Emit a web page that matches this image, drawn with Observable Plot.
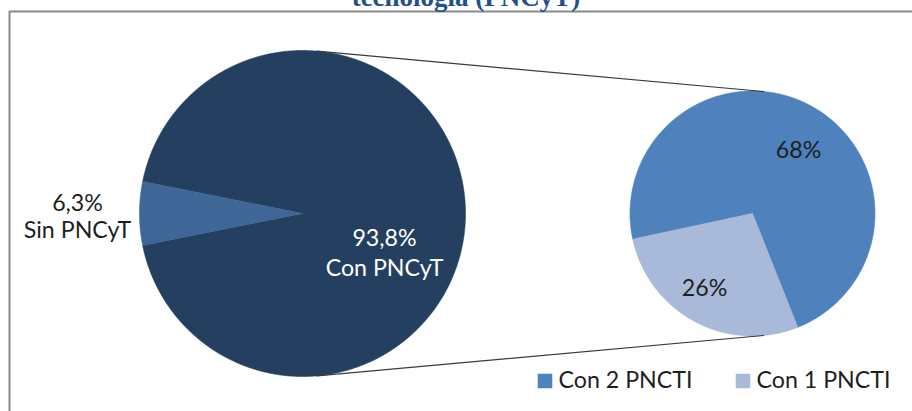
<!DOCTYPE html>
<html><head><meta charset="utf-8">
<script src="https://cdn.jsdelivr.net/npm/d3@7"></script>
<script src="https://cdn.jsdelivr.net/npm/@observablehq/plot@0.6"></script>
<style>
body{margin:0;background:#fff;overflow:hidden;}
#wrap{position:relative;width:912px;height:411px;overflow:hidden;background:#fff;}
#chart{position:absolute;left:0;top:0;}
#title{position:absolute;left:0;width:932px;top:-16px;text-align:center;font:bold 27px "Liberation Serif",serif;line-height:27px;color:#24508a;white-space:nowrap;z-index:2;}
</style></head><body>
<div id="wrap"><div id="chart"></div><div id="title">tecnología (PNCyT)</div></div>
<script>
// ---- data ----
const mainCategories = ["Con PNCyT", "Sin PNCyT"];
const mainValues = [93.8, 6.3];
const mainLabels = ["93,8%", "6,3%"];
const subCategories = ["Con 2 PNCTI", "Con 1 PNCTI"];
const subValues = [68, 26];
const subLabels = ["68%", "26%"];
const legendCategories = ["Con 2 PNCTI", "Con 1 PNCTI"];

// ---- styles / layout ----
const colors = {"Con PNCyT":"#243f60","Sin PNCyT":"#3e6797","Con 2 PNCTI":"#4f81bd","Con 1 PNCTI":"#a9b9d9"};
const W = 912, H = 411;
const mainPie = {cx:302, cy:213, r:163};
const subPie = {cx:752, cy:213, r:122.5, startDeg:257.9};
const frame = {left:9, top:11};
const font = "Lato, 'Open Sans', sans-serif";
const fs = 23.2;
const labelOffset = {"Con PNCyT":[82,38], "Sin PNCyT":[-225,2], "Con 2 PNCTI":[46,-63], "Con 1 PNCTI":[-48,75]};
const legend = {y:380.5, x:[544.5, 742.5], textGap:13.5};

const rad = Math.PI/180;
function pieLayout(cats, vals, p, startDeg){
  const s = startDeg*rad;
  const arcs = d3.pie().sort(null).startAngle(s).endAngle(s+2*Math.PI)(vals);
  const pts = [];
  arcs.forEach((a,i)=>{
    const n = Math.max(2, Math.ceil((a.endAngle-a.startAngle)/(0.4*rad)));
    pts.push({key:cats[i], x:p.cx, y:p.cy});
    for(let k=0;k<=n;k++){
      const t = a.startAngle+(a.endAngle-a.startAngle)*k/n;
      pts.push({key:cats[i], x:p.cx+p.r*Math.sin(t), y:p.cy-p.r*Math.cos(t)});
    }
    pts.push({key:cats[i], x:p.cx, y:p.cy});
  });
  return {arcs, pts};
}
// main pie: small slice centred on the left (270deg)
const mainTotal = d3.sum(mainValues);
const smallSpan = mainValues[1]/mainTotal*360;
const mainStart = 270 + smallSpan/2;
const M = pieLayout(mainCategories, mainValues, mainPie, mainStart);
const S = pieLayout(subCategories, subValues, subPie, subPie.startDeg);

// external tangent connectors
function tangents(a, b){
  const dx=b.cx-a.cx, dy=b.cy-a.cy, D=Math.hypot(dx,dy);
  const phi=Math.atan2(dy,dx), alpha=Math.acos((a.r-b.r)/D);
  return [-1,1].map((sg,i)=>{
    const ang = phi + sg*alpha;
    const nx=Math.cos(ang), ny=Math.sin(ang);
    return [{id:i,x:a.cx+a.r*nx,y:a.cy+a.r*ny},{id:i,x:b.cx+b.r*nx,y:b.cy+b.r*ny}];
  }).flat();
}
const conn = tangents(mainPie, subPie);

const mainText = mainCategories.map((c,i)=>({key:c, text: mainLabels[i]+"\n"+c, x: mainPie.cx+labelOffset[c][0], y: mainPie.cy+labelOffset[c][1]}));
const subText = subCategories.map((c,i)=>({key:c, text: subLabels[i], x: subPie.cx+labelOffset[c][0], y: subPie.cy+labelOffset[c][1]}));
const legData = legendCategories.map((c,i)=>({key:c, x:legend.x[i], y:legend.y}));

const sliceMarks = (L, cats) => cats.map(c => Plot.line(L.pts.filter(p=>p.key===c), {x:"x", y:"y", fill:colors[c], stroke:colors[c], strokeWidth:0.6, curve:"linear"}));

const chart = Plot.plot({
  width: W, height: H,
  margin: 0,
  x: {domain:[0,W], range:[0,W], axis:null},
  y: {domain:[0,H], range:[0,H], axis:null},
  style: {background:"transparent"},
  marks: [
    Plot.line([{x:frame.left,y:H+5},{x:frame.left,y:frame.top},{x:W+5,y:frame.top}], {x:"x", y:"y", stroke:"#8a8a8a", strokeWidth:2}),
    ...sliceMarks(M, mainCategories),
    ...sliceMarks(S, subCategories),
    Plot.line(conn, {x:"x", y:"y", z:"id", stroke:"#3a3a3a", strokeWidth:1.2}),
    Plot.text(mainText.filter(d=>d.key==="Con PNCyT"), {x:"x", y:"y", text:"text", fill:"#ffffff", fontSize:fs, fontFamily:font, lineHeight:1.3, textAnchor:"middle", lineAnchor:"middle"}),
    Plot.text(mainText.filter(d=>d.key==="Sin PNCyT"), {x:"x", y:"y", text:"text", fill:"#1e1e1e", fontSize:fs, fontFamily:font, lineHeight:1.2, textAnchor:"middle", lineAnchor:"middle"}),
    Plot.text(subText, {x:"x", y:"y", text:"text", fill:"#1e1e1e", fontSize:fs, fontFamily:font, textAnchor:"middle", lineAnchor:"middle"}),
    Plot.dot(legData, {x:"x", y:"y", symbol:"square", r:8.2, fill:d=>colors[d.key], stroke:"none"}),
    Plot.text(legData, {x:d=>d.x+legend.textGap, y:"y", text:"key", fill:"#1e1e1e", fontSize:fs, fontFamily:font, textAnchor:"start", lineAnchor:"middle"})
  ]
});
document.getElementById("chart").appendChild(chart);
</script>
</body></html>
